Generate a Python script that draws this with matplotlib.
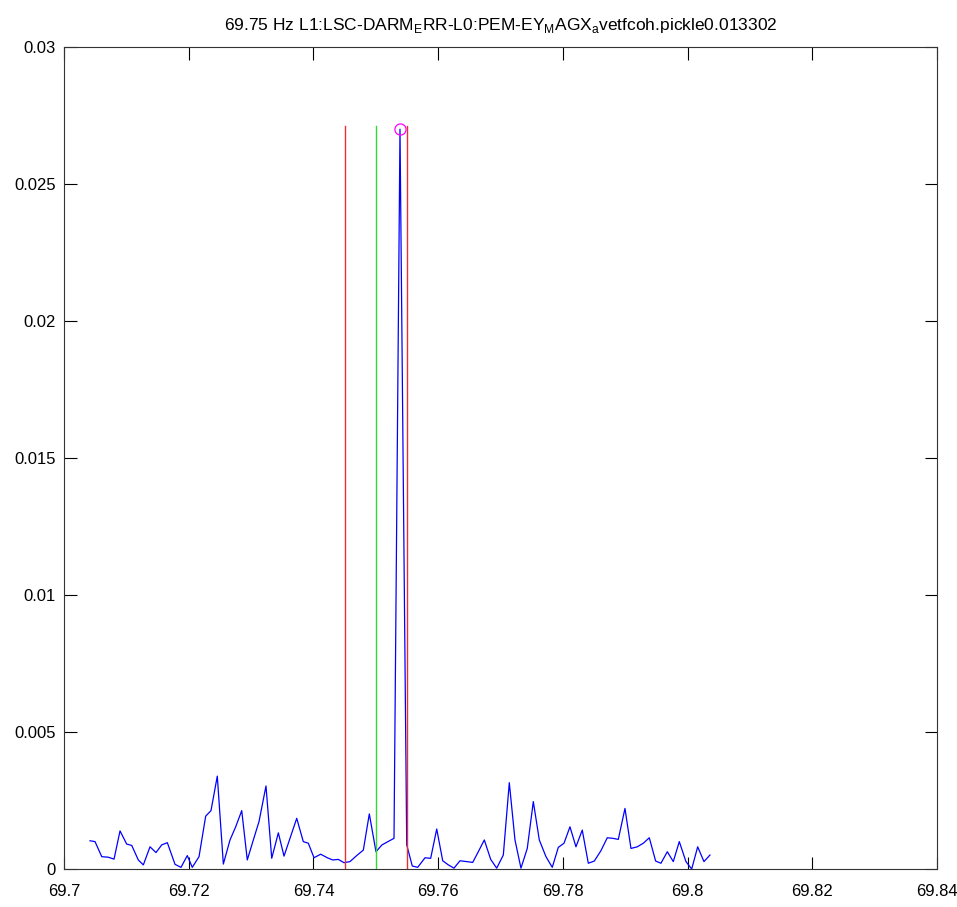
import matplotlib
matplotlib.use('Agg')
import matplotlib.pyplot as plt

# coherence spectrum around 69.75 Hz
freq = [
    69.70417, 69.70497, 69.70605, 69.70710, 69.70802, 69.70898, 69.71005, 69.71086,
    69.71191, 69.71272, 69.71379, 69.71475, 69.71567, 69.71657, 69.71780, 69.71876,
    69.71977, 69.72057, 69.72165, 69.72272, 69.72357, 69.72458, 69.72555, 69.72662,
    69.72753, 69.72850, 69.72939, 69.73036, 69.73127, 69.73239, 69.73331, 69.73437,
    69.73528, 69.73624, 69.73732, 69.73837, 69.73918, 69.74009, 69.74116, 69.74222,
    69.74309, 69.74399, 69.74490, 69.74586, 69.74699, 69.74800, 69.74896, 69.75003,
    69.75099, 69.75196, 69.75292, 69.75388, 69.75496, 69.75585, 69.75672, 69.75789,
    69.75880, 69.75977, 69.76073, 69.76163, 69.76254, 69.76350, 69.76458, 69.76554,
    69.76644, 69.76740, 69.76843, 69.76939, 69.77045, 69.77141, 69.77232, 69.77328,
    69.77429, 69.77526, 69.77622, 69.77729, 69.77830, 69.77927, 69.78018, 69.78114,
    69.78210, 69.78311, 69.78408, 69.78504, 69.78611, 69.78712, 69.78800, 69.78889,
    69.78996, 69.79092, 69.79193, 69.79290, 69.79386, 69.79488, 69.79573, 69.79675,
    69.79771, 69.79867, 69.79974, 69.80066, 69.80162, 69.80263, 69.80359,
]
coh = [
    0.00103, 0.00100, 0.00045, 0.00043, 0.00036, 0.00139, 0.00091, 0.00086,
    0.00033, 0.00015, 0.00081, 0.00060, 0.00088, 0.00096, 0.00017, 0.00006,
    0.00049, 0.00006, 0.00045, 0.00193, 0.00213, 0.00339, 0.00018, 0.00106,
    0.00154, 0.00213, 0.00033, 0.00106, 0.00173, 0.00303, 0.00039, 0.00132,
    0.00047, 0.00112, 0.00185, 0.00100, 0.00094, 0.00041, 0.00054, 0.00041,
    0.00033, 0.00035, 0.00023, 0.00027, 0.00050, 0.00069, 0.00201, 0.00063,
    0.00088, 0.00100, 0.00112, 0.02700, 0.00088, 0.00011, 0.00006, 0.00041,
    0.00039, 0.00146, 0.00030, 0.00015, 0.00003, 0.00030, 0.00027, 0.00024,
    0.00063, 0.00106, 0.00035, 0.00003, 0.00051, 0.00315, 0.00106, 0.00003,
    0.00075, 0.00246, 0.00106, 0.00045, 0.00006, 0.00079, 0.00094, 0.00154,
    0.00081, 0.00142, 0.00021, 0.00029, 0.00067, 0.00114, 0.00112, 0.00108,
    0.00221, 0.00075, 0.00081, 0.00094, 0.00114, 0.00029, 0.00021, 0.00063,
    0.00027, 0.00100, 0.00027, 0.00000, 0.00081, 0.00027, 0.00051,
]

line_freq = 69.75
band = [69.745, 69.755]
peak_freq = 69.75388
peak_val = 0.02700
marker_top = 0.02712

title = (r"69.75 Hz L1:LSC-DARM$_\mathrm{E}$RR-L0:PEM-EY$_\mathrm{M}$"
         r"AGX$_\mathrm{a}$vetfcoh.pickle0.013302")

plt.rcParams['font.family'] = ['Liberation Sans', 'DejaVu Sans']
plt.rcParams['mathtext.fontset'] = 'custom'
plt.rcParams['mathtext.rm'] = 'Liberation Sans'

fig = plt.figure(figsize=(9.57, 9.07), dpi=100)
ax = fig.add_axes([0.0669, 0.0419, 0.9122, 0.9063])

ax.plot(freq, coh, color='#0000ff', linewidth=0.9)
for f in band:
    ax.plot([f, f], [0, marker_top], color='#e83030', linewidth=1.0)
ax.plot([line_freq, line_freq], [0, marker_top], color='#30dd30', linewidth=1.0)
ax.plot([peak_freq], [peak_val], 'o', markerfacecolor='none',
        markeredgecolor='#ff00ff', markersize=8, markeredgewidth=0.9)

ax.set_xlim(69.7, 69.84)
ax.set_ylim(0, 0.03)
ax.set_xticks([69.7, 69.72, 69.74, 69.76, 69.78, 69.8, 69.82, 69.84])
ax.set_xticklabels(['69.7', '69.72', '69.74', '69.76', '69.78', '69.8', '69.82', '69.84'])
ax.set_yticks([0, 0.005, 0.01, 0.015, 0.02, 0.025, 0.03])
ax.set_yticklabels(['0', '0.005', '0.01', '0.015', '0.02', '0.025', '0.03'])
ax.tick_params(direction='in', length=9, width=0.8, top=True, right=True,
               labelsize=12)
ax.tick_params(axis='x', pad=11)
ax.tick_params(axis='y', pad=6)
for s in ax.spines.values():
    s.set_linewidth(0.8)
    s.set_color('#333333')

ax.set_title(title, fontsize=12.5, pad=12)

fig.savefig('out.png', dpi=100)
